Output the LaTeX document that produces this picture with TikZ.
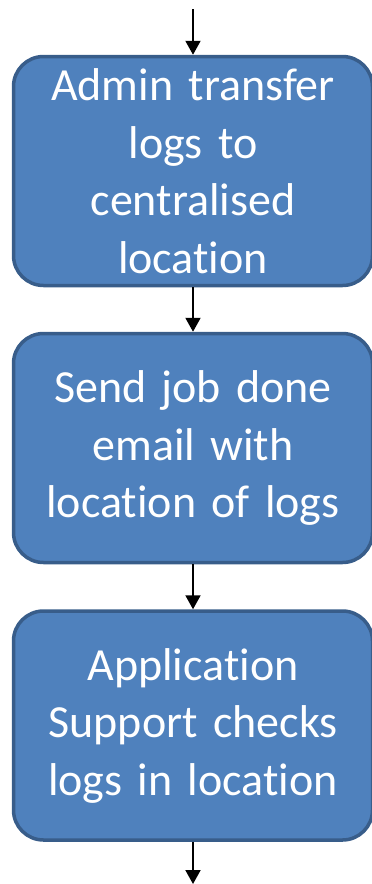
\documentclass[tikz,border=0pt]{standalone}
\usepackage{fontspec}
\setmainfont[Ligatures = NoCommon, WordSpace = 0.8]{Carlito}
\usetikzlibrary{arrows.meta}

\definecolor{boxfill}{HTML}{4F81BD}
\definecolor{boxline}{HTML}{385D8A}

\begin{document}
\begin{tikzpicture}[x=1pt, y=1pt,
        step box/.style = {draw = boxline, fill = boxfill, line width = 3.5pt,
            rounded corners = 30pt, minimum width = 359pt, minimum height = 229pt,
            inner sep = 0pt, text width = 350pt, align = center, text = white,
            font = \fontsize{46}{57.5}\selectfont},
        flow/.style = {line width = 2pt, -{Triangle[width = 15pt, length = 14pt]}}]
        % frame of the picture
        \useasboundingbox (0,0) rectangle (372,-884);

        % steps
        \node[step box] (admin)   at (193,-171)   {Admin transfer\\logs to\\centralised\\location};
        \node[step box] (email)   at (193,-448)   {Send job done\\email with\\location of logs};
        \node[step box] (support) at (193,-725.5) {Application\\Support checks\\logs in location};

        % free ends of the flow
        \coordinate (start) at (193,-9);
        \coordinate (end)   at (193,-884);

        % arrows
        \draw[flow] (start) -- (admin);
        \draw[flow] (admin) -- (email);
        \draw[flow] (email) -- (support);
        \draw[flow] (support) -- (end);
\end{tikzpicture}
\end{document}
